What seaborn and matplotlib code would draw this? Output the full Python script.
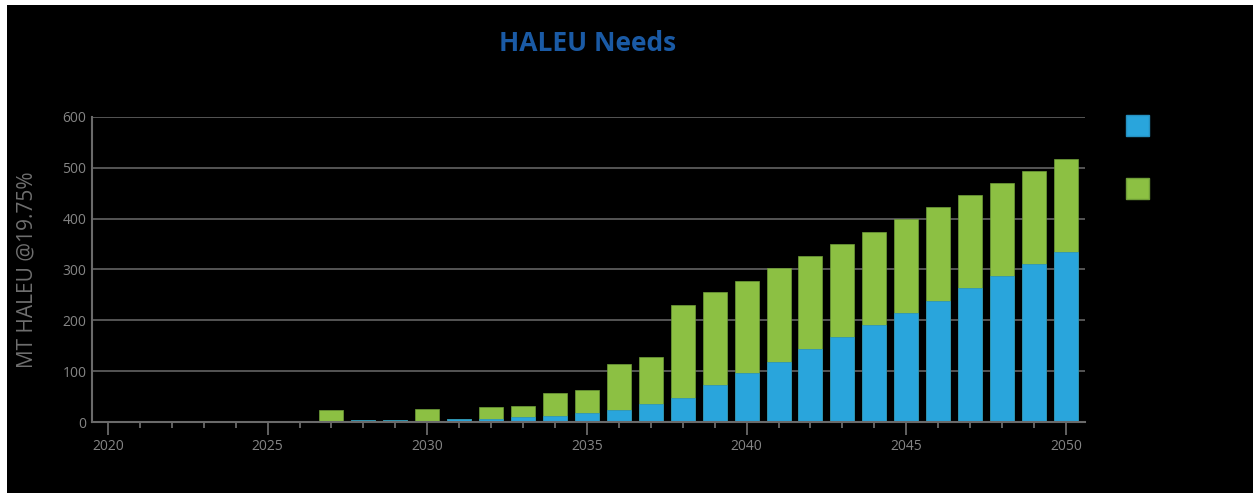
import matplotlib
matplotlib.use("Agg")
import matplotlib.pyplot as plt
import matplotlib.patches as mpatches
from matplotlib.ticker import MultipleLocator
import seaborn as sns
import pandas as pd

# data
years = list(range(2020, 2051))
blue_vals = [0, 0, 0, 0, 0, 0, 0, 0, 4, 4, 2.5, 6.5, 6, 9, 12, 17.5, 24, 36,
             48, 72, 96, 119, 143, 168, 191, 215, 239, 263, 287, 311, 334]
green_vals = [0, 0, 0, 0, 0, 0, 0, 23, 0, 0, 24, 0, 23, 23, 46, 46, 91, 92,
              183, 183, 182, 183, 183, 183, 183, 184, 183, 183, 184, 183, 183]
y_ticks = [0, 100, 200, 300, 400, 500, 600]
x_major = [2020, 2025, 2030, 2035, 2040, 2045, 2050]

BLUE = "#29a5dc"
GREEN = "#8cc043"
GRAY = "#858585"

df = pd.DataFrame({"year": years, "blue": blue_vals, "green": green_vals})
df["total"] = df["blue"] + df["green"]

sns.set_style("dark")
plt.rcParams["font.family"] = ["Open Sans", "DejaVu Sans"]

fig = plt.figure(figsize=(12.53, 4.93), dpi=100)
fig.patch.set_facecolor("black")
ax = fig.add_axes([0.0734, 0.144, 0.7926, 0.6187])
ax.set_facecolor("black")

sns.barplot(data=df, x="year", y="total", color=GREEN, native_scale=True,
            width=0.75, saturation=1, edgecolor="#6f9e38", linewidth=0.5, ax=ax)
sns.barplot(data=df, x="year", y="blue", color=BLUE, native_scale=True,
            width=0.75, saturation=1, edgecolor="#2590c0", linewidth=0.5, ax=ax)

ax.set_xlim(2019.5, 2050.6)
ax.set_ylim(0, 600)
ax.set_yticks(y_ticks)
ax.set_xticks(x_major)
ax.xaxis.set_minor_locator(MultipleLocator(1))
ax.set_axisbelow(True)
ax.grid(axis="y", color="#555555", linewidth=1.4)
ax.grid(axis="x", visible=False)

for side in ["top", "right"]:
    ax.spines[side].set_visible(False)
for side in ["left", "bottom"]:
    ax.spines[side].set_visible(True)
    ax.spines[side].set_color("#6a6a6a")
    ax.spines[side].set_linewidth(1.5)

ax.tick_params(axis="y", length=0, labelsize=10, labelcolor=GRAY, pad=4)
ax.tick_params(axis="x", which="major", length=9, width=1.3, color="#6a6a6a",
               labelsize=10, labelcolor=GRAY, pad=3, direction="out", bottom=True)
ax.tick_params(axis="x", which="minor", length=4.5, width=1.3, color="#6a6a6a",
               direction="out", bottom=True)

ax.set_xlabel("")
ax.set_ylabel("MT HALEU @19.75%", fontsize=15, color="#6f6f6f", labelpad=18)

fig.text(0.469, 0.912, "HALEU Needs", ha="center", va="center",
         fontsize=19, fontweight="bold", color="#1a5aa5")

# legend squares (labels in the reference are not visible)
handles = [mpatches.Patch(facecolor=BLUE, edgecolor="#2590c0"),
           mpatches.Patch(facecolor=GREEN, edgecolor="#6f9e38")]
leg = fig.legend(handles, ["", ""], loc="upper left",
                 bbox_to_anchor=(0.8834, 0.806), frameon=False,
                 fontsize=17, handlelength=1, handleheight=1,
                 labelspacing=1.65, borderpad=0.3)

# thin white margin at top and left as in the reference image
fig.patches.append(mpatches.Rectangle((0, 0.99), 1, 0.01, transform=fig.transFigure,
                                      facecolor="white", edgecolor="none"))
fig.patches.append(mpatches.Rectangle((0, 0), 0.0056, 1, transform=fig.transFigure,
                                      facecolor="white", edgecolor="none"))

fig.savefig("out.png", dpi=100, facecolor="black")
plt.close()
